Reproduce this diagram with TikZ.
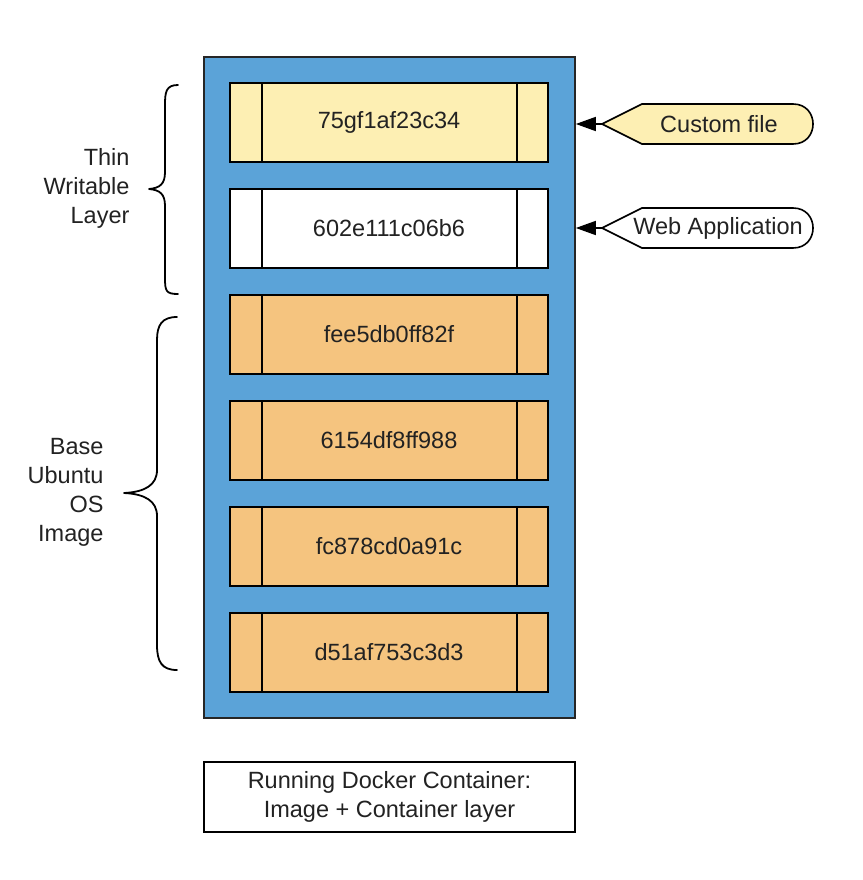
\documentclass[tikz,border=0pt]{standalone}
\usepackage{fontspec}
\setmainfont{Liberation Sans}
\usetikzlibrary{arrows.meta}
\definecolor{cblue}{HTML}{5BA3D8}
\definecolor{cyel}{HTML}{FDEFB3}
\definecolor{corange}{HTML}{F5C47F}
\definecolor{ctext}{HTML}{222222}
\begin{document}
\begin{tikzpicture}[x=1pt,y=-1pt,
  every node/.style={font=\fontsize{23.5}{29}\selectfont, text=ctext},
  layer/.style={draw=black, line width=1.6pt, minimum width=318pt, minimum height=79pt, inner sep=0pt},
  container/.style={draw=black!85, line width=1.6pt, fill=cblue, minimum width=371pt, minimum height=661pt, inner sep=0pt},
  callout/.style={draw=black, line width=1.6pt},
  pointer/.style={line width=1.6pt, -{Triangle[length=20pt,width=14pt]}},
  bracepath/.style={line width=1.8pt, line cap=round, line join=round},
  caption/.style={draw=black, line width=1.6pt, fill=white, minimum width=371pt, minimum height=70pt, align=center, inner sep=0pt}
]
\useasboundingbox (0,0) rectangle (862,880);
\fill[white] (0,0) rectangle (862,880);

\node[container] (box) at (389.5,387.5) {};

\node[layer, fill=cyel]    (l1) at (389,122.5) {75gf1af23c34};
\node[layer, fill=white]   (l2) at (389,228.5) {602e111c06b6};
\node[layer, fill=corange] (l3) at (389,334.5) {fee5db0ff82f};
\node[layer, fill=corange] (l4) at (389,440.5) {6154df8ff988};
\node[layer, fill=corange] (l5) at (389,546.5) {fc878cd0a91c};
\node[layer, fill=corange] (l6) at (389,652.5) {d51af753c3d3};
\foreach \n in {l1,l2,l3,l4,l5,l6}{
  \draw[line width=1.6pt] ([xshift=33pt]\n.north west) -- ([xshift=33pt]\n.south west);
  \draw[line width=1.6pt] ([xshift=-32pt]\n.north east) -- ([xshift=-32pt]\n.south east);
}

% callouts
\coordinate (t1) at (602,124);
\coordinate (t2) at (602,228);
\draw[callout, fill=cyel] (t1) -- (642,104) -- (793,104) .. controls (819.7,104) and (819.7,144) .. (793,144) -- (642,144) -- cycle;
\draw[callout, fill=white] (t2) -- (642,208) -- (793,208) .. controls (819.7,208) and (819.7,248) .. (793,248) -- (642,248) -- cycle;
\node (c1) at (719,124) {Custom file};
\node (c2) at (718,228) {Web Application};
\draw[pointer] (t1) -- (t1 -| box.east);
\draw[pointer] (t2) -- (t2 -| box.east);

% braces
\draw[bracepath] (178,85) .. controls (166,85) and (165,92) .. (165,105) -- (165,172)
  .. controls (165,184) and (160,188) .. (149,189)
  .. controls (160,190) and (165,194) .. (165,206) -- (165,278)
  .. controls (165,291) and (166,294) .. (178,294);
\draw[bracepath] (177,317) .. controls (162,317) and (157,325) .. (157,340) -- (157,470)
  .. controls (157,485) and (145,492) .. (124,493)
  .. controls (145,494) and (157,501) .. (157,516) -- (157,645)
  .. controls (157,662) and (162,670) .. (177,670);

\node[align=right, anchor=east] (thin) at (133,188) {Thin\\Writable\\Layer};
\node[align=right, anchor=east] (base) at (107,492) {Base\\Ubuntu\\OS\\Image};

\node[caption] (cap) at (389.5,797) {Running Docker Container:\\Image + Container layer};
\end{tikzpicture}
\end{document}
